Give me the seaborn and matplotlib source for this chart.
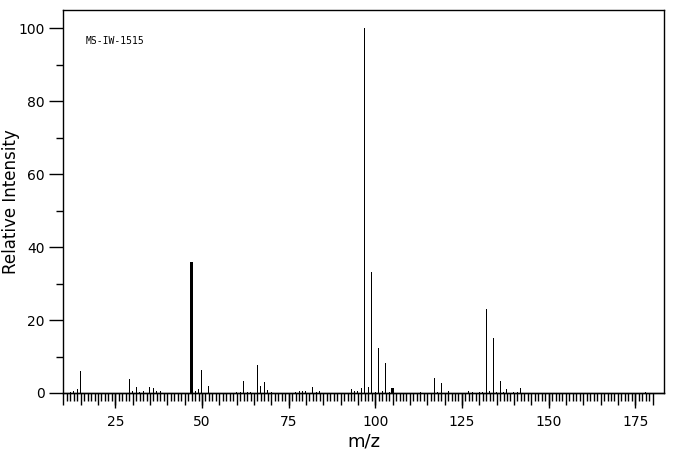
import matplotlib
matplotlib.use("Agg")
import matplotlib.pyplot as plt
import seaborn as sns
import numpy as np
import pandas as pd
from matplotlib.ticker import FixedLocator, NullFormatter

mz = [12, 13, 14, 15, 29, 30, 31, 32, 33, 35, 36, 37, 38,
      47, 48, 49, 50, 52, 60, 61, 62, 63, 64, 66, 67, 68, 69, 70,
      77, 78, 79, 80, 82, 83, 84, 93, 94, 95, 96, 97, 98, 99, 100,
      101, 102, 103, 104, 105, 113, 117, 118, 119, 121, 127, 128,
      130, 131, 132, 133, 134, 135, 136, 137, 138, 140, 141, 142, 178]
intensity = [0.3, 0.6, 1.0, 6.0, 3.8, 0.6, 1.6, 0.4, 0.6, 1.6, 1.3, 0.6, 0.6,
             35.9, 0.5, 1.1, 6.3, 2.0, 0.4, 0.3, 3.4, 0.3, 0.3, 7.8, 2.0, 3.0, 0.8, 0.3,
             0.3, 0.5, 0.6, 0.5, 1.6, 0.4, 0.6, 1.1, 0.5, 0.5, 1.4, 100.0, 1.6, 33.2, 0.4,
             12.3, 0.5, 8.3, 0.3, 1.4, 0.4, 4.1, 0.4, 2.7, 0.5, 0.5, 0.4,
             0.3, 0.4, 23.0, 0.5, 15.0, 0.3, 3.4, 0.3, 1.1, 0.4, 0.4, 1.4, 0.4]
thick_peaks = [47, 105]
x_tick_labels = ["25", "50", "75", "100", "125", "150", "175"]
y_tick_labels = ["0", "20", "40", "60", "80", "100"]
sample_id = "MS-IW-1515"

sns.set_style("ticks")
plt.rcParams['font.family'] = ['DejaVu Sans']
plt.rcParams['text.color'] = 'black'
plt.rcParams['axes.labelcolor'] = 'black'
plt.rcParams['xtick.color'] = 'black'
plt.rcParams['ytick.color'] = 'black'

df = pd.DataFrame({"mz": mz, "intensity": intensity})

fig = plt.figure(figsize=(6.76, 4.55), dpi=100)
ax = fig.add_axes([63 / 676, 62 / 455, 601 / 676, 383 / 455])

sns.barplot(data=df, x="mz", y="intensity", native_scale=True, width=0.29,
            color="black", linewidth=0, saturation=1, ax=ax)
for patch, m in zip(ax.patches, df["mz"]):
    if m in thick_peaks:
        cx = patch.get_x() + patch.get_width() / 2
        patch.set_width(0.8)
        patch.set_x(cx - 0.4)

ax.set_xlim(9.9, 183.3)
ax.set_ylim(0, 105)

# x ticks: every 1 (short), every 5 (medium), every 25 (long with labels)
ax.xaxis.set_major_locator(FixedLocator(list(range(10, 181, 5))))
ax.xaxis.set_major_formatter(NullFormatter())
ax.xaxis.set_minor_locator(FixedLocator(list(range(10, 181))))
ax.tick_params(axis="x", which="major", length=8.5, width=1, color="black")
ax.tick_params(axis="x", which="minor", length=6, width=1, color="black")
sec = ax.secondary_xaxis("bottom")
sec.set_xticks([int(t) for t in x_tick_labels])
sec.set_xticklabels(x_tick_labels, fontsize=10, color="black")
sec.tick_params(length=10.5, width=1, color="black", pad=5)
sec.spines["bottom"].set_linewidth(1)

ax.set_yticks([int(t) for t in y_tick_labels])
ax.set_yticklabels(y_tick_labels, fontsize=10, color="black")
ax.yaxis.set_minor_locator(FixedLocator([10, 30, 50, 70, 90]))
ax.tick_params(axis="y", which="major", length=10, width=1, color="black", pad=3)
ax.tick_params(axis="y", which="minor", length=5, width=1, color="black")

for s in ax.spines.values():
    s.set_visible(True)
    s.set_linewidth(1)
    s.set_color("black")

ax.set_xlabel("")
sec.set_xlabel("m/z", fontsize=13, labelpad=3, color="black")
ax.set_ylabel("Relative Intensity", fontsize=12, color="black")
ax.yaxis.set_label_coords(-0.071, 0.5)

ax.text(0.037, 0.919, sample_id, transform=ax.transAxes, fontsize=7,
        family="DejaVu Sans Mono", va="center", ha="left", color="black")

fig.savefig("out.png", dpi=100)
